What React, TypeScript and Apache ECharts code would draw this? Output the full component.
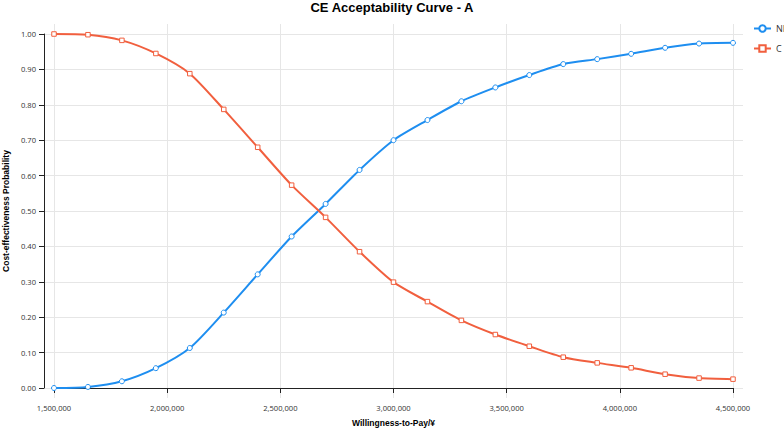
import React, { useEffect, useRef } from "react";
import * as echarts from "echarts";

const wtp: number[] = [
  1500000, 1650000, 1800000, 1950000, 2100000, 2250000, 2400000, 2550000,
  2700000, 2850000, 3000000, 3150000, 3300000, 3450000, 3600000, 3750000,
  3900000, 4050000, 4200000, 4350000, 4500000,
];
const niValues: number[] = [
  0.0, 0.003, 0.019, 0.056, 0.113, 0.213, 0.321, 0.428, 0.52, 0.616, 0.7,
  0.757, 0.81, 0.849, 0.884, 0.915, 0.929, 0.944, 0.961, 0.973, 0.975,
];
const cValues: number[] = [
  1.0, 0.998, 0.982, 0.945, 0.888, 0.787, 0.68, 0.573, 0.482, 0.385, 0.299,
  0.244, 0.191, 0.151, 0.118, 0.087, 0.071, 0.057, 0.039, 0.028, 0.025,
];
const xTicks: number[] = [1500000, 2000000, 2500000, 3000000, 3500000, 4000000, 4500000];
const yTicks: number[] = [0, 0.1, 0.2, 0.3, 0.4, 0.5, 0.6, 0.7, 0.8, 0.9, 1.0];
const seriesNames: string[] = ["NI", "C"];
const titleText = "CE Acceptability Curve - A";
const xName = "Willingness-to-Pay/¥";
const yName = "Cost-effectiveness Probability";

export default function App() {
  const ref = useRef<HTMLDivElement>(null);
  useEffect(() => {
    if (!ref.current) return;
    const chart = echarts.init(ref.current, undefined, { renderer: "svg" });
    const W = 784, H = 430;
    const gl = 54, gr = 51, gt = 34, gb = 42, pad = 10;
    const xMin = xTicks[0], xMax = xTicks[xTicks.length - 1];
    const yMin = yTicks[0], yMax = yTicks[yTicks.length - 1];
    const kx = (xMax - xMin) / (W - gl - gr);
    const ky = (yMax - yMin) / (H - gt - gb);
    const labelFont = "'Open Sans', sans-serif";
    const boldFont = "'Liberation Sans', Arial, sans-serif";
    const axisColor = "#222";
    const blue = "#1E8EF0";
    const red = "#F15F3E";
    chart.setOption({
      animation: false,
      backgroundColor: "#fff",
      title: {
        text: titleText,
        left: "center",
        top: 1,
        padding: 0,
        textStyle: { fontSize: 13, fontWeight: "bold", fontFamily: boldFont, color: "#000" },
      },
      legend: {
        orient: "vertical",
        left: 753,
        top: 24,
        padding: 0,
        itemWidth: 17,
        itemHeight: 8,
        itemGap: 11,
        data: seriesNames,
        textStyle: { fontSize: 9, color: "#333", fontFamily: labelFont },
      },
      grid: [
        { left: gl, right: gr, top: gt, bottom: gb, containLabel: false, outerBoundsMode: "none" },
        {
          left: gl - pad, right: gr - pad, top: gt - pad, bottom: gb - pad,
          containLabel: false, outerBoundsMode: "none",
        },
      ],
      xAxis: [
        {
          type: "value",
          gridIndex: 0,
          min: xMin,
          max: xMax,
          offset: pad,
          axisLine: { show: true, lineStyle: { color: axisColor, width: 1 } },
          axisTick: { show: true, length: 5, lineStyle: { color: axisColor }, customValues: xTicks },
          axisLabel: {
            customValues: xTicks,
            margin: 6,
            fontSize: 7.6,
            color: "#333",
            fontFamily: labelFont,
            formatter: (v: number) => v.toLocaleString("en-US"),
          },
          splitLine: { show: false },
          name: xName,
          nameLocation: "middle",
          nameGap: 20,
          nameTextStyle: { fontSize: 8.5, fontWeight: "bold", fontFamily: boldFont, color: "#000" },
        },
        {
          type: "value",
          gridIndex: 1,
          min: xMin - pad * kx,
          max: xMax + pad * kx,
          axisLine: { show: false },
          axisTick: { show: false, customValues: xTicks },
          axisLabel: { show: false, customValues: xTicks },
          splitLine: { show: true, lineStyle: { color: "#e6e6e6", width: 1 } },
        },
      ],
      yAxis: [
        {
          type: "value",
          gridIndex: 0,
          min: yMin,
          max: yMax,
          offset: pad,
          axisLine: { show: true, lineStyle: { color: axisColor, width: 1 } },
          axisTick: { show: true, length: 5, lineStyle: { color: axisColor }, customValues: yTicks },
          axisLabel: {
            customValues: yTicks,
            margin: 8,
            fontSize: 7.6,
            color: "#333",
            fontFamily: labelFont,
            formatter: (v: number) => v.toFixed(2),
          },
          splitLine: { show: false },
          name: yName,
          nameLocation: "middle",
          nameGap: 32,
          nameTextStyle: { fontSize: 8.5, fontWeight: "bold", fontFamily: boldFont, color: "#000" },
        },
        {
          type: "value",
          gridIndex: 1,
          min: yMin - pad * ky,
          max: yMax + pad * ky,
          axisLine: { show: false },
          axisTick: { show: false, customValues: yTicks },
          axisLabel: { show: false, customValues: yTicks },
          splitLine: { show: true, lineStyle: { color: "#e6e6e6", width: 1 } },
        },
      ],
      series: [
        {
          name: seriesNames[0],
          type: "line",
          xAxisIndex: 0,
          yAxisIndex: 0,
          data: wtp.map((x, i) => [x, niValues[i]]),
          smooth: 0.25,
          clip: false,
          symbol: "circle",
          symbolSize: 5,
          itemStyle: { color: "#fff", borderColor: blue, borderWidth: 1 },
          lineStyle: { color: blue, width: 2 },
          color: blue,
          z: 3,
        },
        {
          name: seriesNames[1],
          type: "line",
          xAxisIndex: 0,
          yAxisIndex: 0,
          data: wtp.map((x, i) => [x, cValues[i]]),
          smooth: 0.25,
          clip: false,
          symbol: "rect",
          symbolSize: 4.5,
          itemStyle: { color: "#fff", borderColor: red, borderWidth: 1 },
          lineStyle: { color: red, width: 2 },
          color: red,
          z: 3,
        },
      ],
    });
    return () => chart.dispose();
  }, []);
  return (
    <div
      ref={ref}
      style={{ position: "fixed", left: 0, top: 0, width: 784, height: 430 }}
    />
  );
}
